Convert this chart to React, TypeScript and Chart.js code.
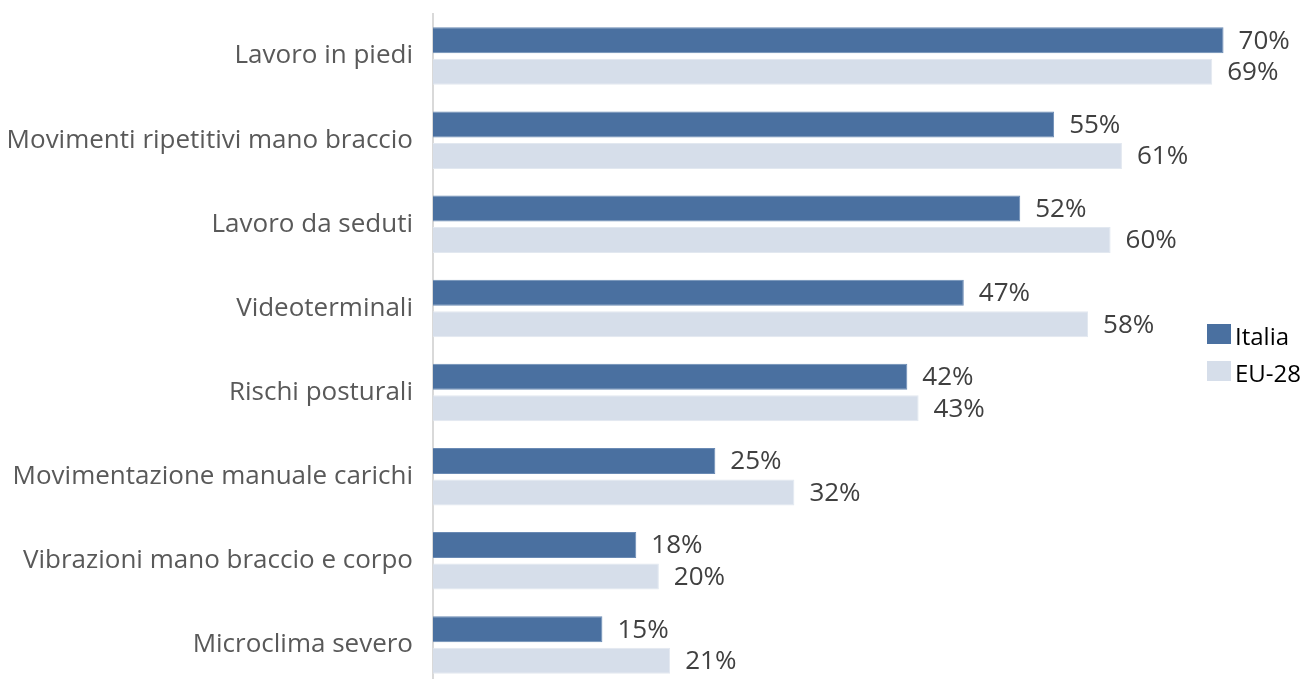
import React, { useEffect, useRef } from "react";
import { Chart, registerables } from "chart.js";

Chart.register(...registerables);

const categories = [
  "Lavoro in piedi",
  "Movimenti ripetitivi mano braccio",
  "Lavoro da seduti",
  "Videoterminali",
  "Rischi posturali",
  "Movimentazione manuale carichi",
  "Vibrazioni mano braccio e corpo",
  "Microclima severo",
];
const italia = [70, 55, 52, 47, 42, 25, 18, 15];
const eu28 = [69, 61, 60, 58, 43, 32, 20, 21];
const seriesNames = ["Italia", "EU-28"];

const COLORS = ["#4A70A0", "#D6DEEA"];
const BORDERS = ["#6A8AB4", "#E2E8F0"];
const FONT = "'Open Sans', 'Noto Sans', sans-serif";

const dataLabels = {
  id: "dataLabels",
  afterDatasetsDraw(chart: any) {
    const ctx = chart.ctx;
    ctx.save();
    ctx.font = `26px ${FONT}`;
    ctx.fillStyle = "#404040";
    ctx.textBaseline = "middle";
    ctx.textAlign = "left";
    chart.data.datasets.forEach((ds: any, di: number) => {
      const meta = chart.getDatasetMeta(di);
      meta.data.forEach((bar: any, i: number) => {
        ctx.fillText(`${ds.data[i]}%`, bar.x + 15, bar.y + 1);
      });
    });
    ctx.restore();
  },
};

const customLegend = {
  id: "customLegend",
  afterDraw(chart: any) {
    const ctx = chart.ctx;
    ctx.save();
    ctx.font = `24px ${FONT}`;
    ctx.textBaseline = "alphabetic";
    ctx.textAlign = "left";
    const x = 1207;
    const y0 = 324;
    chart.data.datasets.forEach((ds: any, di: number) => {
      const y = y0 + di * 37;
      ctx.fillStyle = ds.backgroundColor;
      ctx.fillRect(x, y, 24, 20);
      ctx.fillStyle = "#000000";
      ctx.fillText(ds.label, x + 28, y + 21);
    });
    ctx.restore();
  },
};

export default function App() {
  const ref = useRef<HTMLCanvasElement | null>(null);
  useEffect(() => {
    if (!ref.current) return;
    const chart = new Chart(ref.current, {
      type: "bar",
      data: {
        labels: categories,
        datasets: [
          {
            label: seriesNames[0],
            data: italia,
            backgroundColor: COLORS[0],
            borderColor: BORDERS[0],
            borderWidth: 1,
            categoryPercentage: 0.75,
            barPercentage: 0.825,
          },
          {
            label: seriesNames[1],
            data: eu28,
            backgroundColor: COLORS[1],
            borderColor: BORDERS[1],
            borderWidth: 1,
            categoryPercentage: 0.75,
            barPercentage: 0.825,
          },
        ],
      },
      options: {
        indexAxis: "y",
        responsive: false,
        animation: false,
        layout: { padding: { top: 14, bottom: 0, left: 0, right: 29 } },
        plugins: {
          legend: { display: false },
          tooltip: { enabled: false },
        },
        scales: {
          x: {
            min: 0,
            max: 75,
            display: false,
            grid: { display: false },
          },
          y: {
            grid: {
              display: true,
              drawOnChartArea: false,
              drawTicks: true,
              tickLength: 20,
              color: "rgba(0,0,0,0)",
            },
            border: { display: true, color: "#D9D9D9", width: 2 },
            ticks: {
              color: "#595959",
              font: { family: FONT, size: 26, lineHeight: 1 },
              padding: 0,
            },
            afterFit(scale: any) {
              scale.width = 433;
            },
          },
        },
      },
      plugins: [dataLabels, customLegend],
    });
    return () => chart.destroy();
  }, []);
  return (
    <div
      style={{
        position: "fixed",
        left: 0,
        top: 0,
        width: 1309,
        height: 679,
        overflow: "hidden",
        background: "#fff",
      }}
    >
      <canvas ref={ref} width={1309} height={700} style={{ display: "block" }} />
    </div>
  );
}
